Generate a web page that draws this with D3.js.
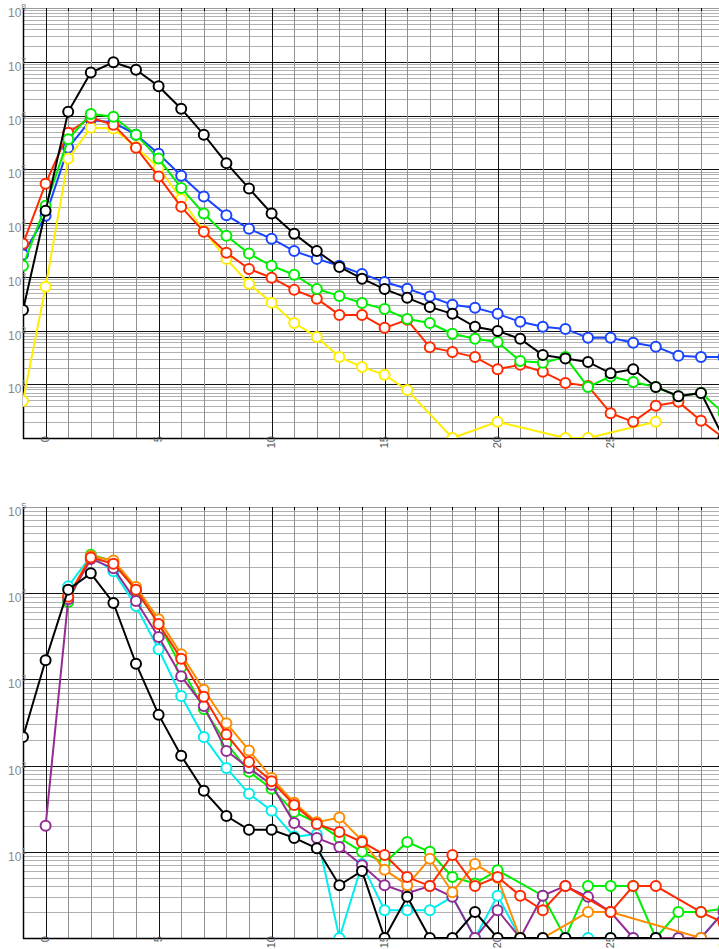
<!DOCTYPE html>
<html><head><meta charset="utf-8">
<script src="https://cdn.jsdelivr.net/npm/d3@7"></script>
<style>body{margin:0;background:#fff}svg{display:block;font-family:"Liberation Sans",Arial,sans-serif}</style>
</head><body>
<svg id="c" width="719" height="949"></svg>
<script>
// x positions (shared)
const xs = d3.range(-1, 31);
const xTickLabels = [0, 5, 10, 15, 20, 25, 30];

// ---- top panel series (index 0 -> x=-1) ----
const topBlue   = [2600,13600,2.5e5,8.3e5,7.4e5,4.4e5,1.95e5,7.6e4,3.1e4,1.4e4,7800,5100,3000,2150,1600,1130,800,600,430,300,265,204,145,117,107,73,73,59,50,34,32,32];
const topYellow = [4.9,650,1.58e5,5.9e5,5.7e5,2.6e5,1.07e5,2.8e4,7100,2150,740,330,138,76,32,21,15,7.8,null,1,null,2,null,null,1,1,null,null,2,null,null,null];
const topRed    = [4100,5.4e4,4.8e5,9.1e5,6.7e5,2.5e5,7.3e4,2.0e4,6900,2800,1400,960,570,390,195,195,112,158,49,40,32,19,23,17,10.6,9.3,2.9,2.0,4.0,4.7,2.1,1];
const topGreen  = [1600,2.1e4,3.6e5,1.07e6,9.5e5,4.4e5,1.58e5,4.5e4,1.5e4,5800,2700,1600,1090,590,440,325,250,164,138,87,70,61,27,25,32,8.9,14,11,8.9,6,6.9,2.9];
const topBlack  = [240,16900,1.17e6,6.3e6,9.8e6,7.1e6,3.5e6,1.34e6,4.4e5,1.3e5,4.4e4,1.5e4,6300,3000,1520,920,590,405,275,204,117,98,70,35,30,26,16,19,8.9,6.0,6.9,1];

// ---- bottom panel series ----
const botGreen  = [null,null,7900,2.8e4,2.35e4,1.07e4,4500,1380,455,182,85,54,29,21.6,14.5,10,7.4,13,10,5.1,4.3,6.1,null,3.1,1,4,4,4,1,2,2,2.2];
const botCyan   = [null,null,1.2e4,2.7e4,1.8e4,7100,2240,640,215,94,47,30,15,16,1,7.2,2.1,2.1,2.1,3,1,3.1,1,1,1,1,1,1,1,1,1,2];
const botPurple = [null,20,8500,2.5e4,1.95e4,8100,3100,1090,490,148,94,60,21.6,14.5,11.4,7,4.1,3.3,4,3,1,2.1,1,3.1,4,3,2,1,1,1,1,2];
const botOrange = [null,null,9300,2.7e4,2.4e4,1.18e4,5000,1960,760,310,150,72,37,22,25,13.5,6.2,4.1,8.3,3.4,7.2,5,1,1,null,2,2,null,null,null,1,null];
const botRed    = [null,null,9100,2.6e4,2.2e4,1.1e4,4400,1740,630,230,110,66,35,21,17,13,9.2,5.1,4,9.2,4,5.1,3.1,2.1,4,null,2,4,4,null,2,1.5];
const botBlack  = [215,1670,1.1e4,1.7e4,7700,1520,390,130,51,26,18,18,14.5,11,4.1,6,1,3,1,1,2,1,1,1,1,null,1,null,1,null,null,null];

const topSeries = [
  {v: topBlue, c: "#1a44ff"}, {v: topYellow, c: "#ffee00"}, {v: topRed, c: "#ff2a00"},
  {v: topGreen, c: "#00ee00"}, {v: topBlack, c: "#000000"}];
const botSeries = [
  {v: botGreen, c: "#00ee00"}, {v: botCyan, c: "#00eeee"}, {v: botPurple, c: "#932c93"},
  {v: botOrange, c: "#ff8c00"}, {v: botRed, c: "#ff2a00"}, {v: botBlack, c: "#000000"}];

const svg = d3.select("#c");
const x = d3.scaleLinear().domain([-1, 31]).range([23, 23 + 32 * 22.6]);

function panel(id, y0, y1, maxExp, series) {
  const y = d3.scaleLog().domain([1, Math.pow(10, maxExp)]).range([y1, y0]);
  const g = svg.append("g");
  const x0 = x.range()[0], xEnd = x.range()[1];
  g.append("clipPath").attr("id", id).append("rect")
    .attr("x", x0).attr("y", y0).attr("width", xEnd - x0).attr("height", y1 - y0);
  // horizontal grid
  const hv = [];
  for (let d = 0; d < maxExp; d++) for (let m = 1; m <= 9; m++) hv.push({v: m * Math.pow(10, d), major: m === 1});
  hv.push({v: Math.pow(10, maxExp), major: true});
  g.selectAll(null).data(hv).join("line")
    .attr("x1", x0).attr("x2", xEnd)
    .attr("y1", d => Math.round(y(d.v)) + 0.5).attr("y2", d => Math.round(y(d.v)) + 0.5)
    .attr("stroke", d => d.major ? "#111" : "#b0b0b0").attr("stroke-width", 1);
  // vertical grid
  g.selectAll(null).data(xs.concat([31])).join("line")
    .attr("x1", d => Math.round(x(d)) + 0.5).attr("x2", d => Math.round(x(d)) + 0.5)
    .attr("y1", y0).attr("y2", y1)
    .attr("stroke", d => d % 5 === 0 ? "#111" : "#909090").attr("stroke-width", 1);
  // top border and ticks
  g.append("line").attr("x1", x0).attr("x2", xEnd).attr("y1", y0 + 0.5).attr("y2", y0 + 0.5).attr("stroke", "#999");
  g.selectAll(null).data(xs).join("line")
    .attr("x1", d => Math.round(x(d)) + 0.5).attr("x2", d => Math.round(x(d)) + 0.5)
    .attr("y1", y0).attr("y2", y0 + 3).attr("stroke", "#000");
  // axes
  g.append("line").attr("x1", x0 + 0.5).attr("x2", x0 + 0.5).attr("y1", y0).attr("y2", y1 + 1).attr("stroke", "#000").attr("stroke-width", 1.5);
  g.append("line").attr("x1", x0).attr("x2", xEnd).attr("y1", y1 + 0.5).attr("y2", y1 + 0.5).attr("stroke", "#000").attr("stroke-width", 1.5);
  // y labels
  const exps = d3.range(1, maxExp + 1);
  const yl = g.selectAll(null).data(exps).join("text")
    .attr("x", 8).attr("y", d => y(Math.pow(10, d)) + 9)
    .attr("fill", "#888").attr("font-size", 12);
  yl.append("tspan").text("10");
  yl.append("tspan").attr("font-size", 9).attr("dy", -7).text(d => d);
  // x labels
  g.selectAll(null).data(xTickLabels).join("text")
    .attr("transform", d => `translate(${x(d)},${y1 - 2}) rotate(-90)`)
    .attr("text-anchor", "end").attr("dy", "0.35em")
    .attr("fill", "#555").attr("font-size", 11).text(d => d);
  // series
  const pg = g.append("g").attr("clip-path", `url(#${id})`);
  const line = d3.line().x(d => x(d.x)).y(d => y(d.v));
  series.forEach(s => {
    const pts = s.v.map((v, i) => ({x: xs[i], v})).filter(p => p.v != null);
    pg.append("path").datum(pts).attr("d", line).attr("fill", "none")
      .attr("stroke", s.c).attr("stroke-width", 2);
    pg.selectAll(null).data(pts).join("circle")
      .attr("cx", d => x(d.x)).attr("cy", d => y(d.v)).attr("r", 5)
      .attr("fill", "#fff").attr("stroke", s.c).attr("stroke-width", 2);
  });
}

panel("clipTop", 8, 438, 8, topSeries);
panel("clipBot", 507, 938, 5, botSeries);
</script>
</body></html>
